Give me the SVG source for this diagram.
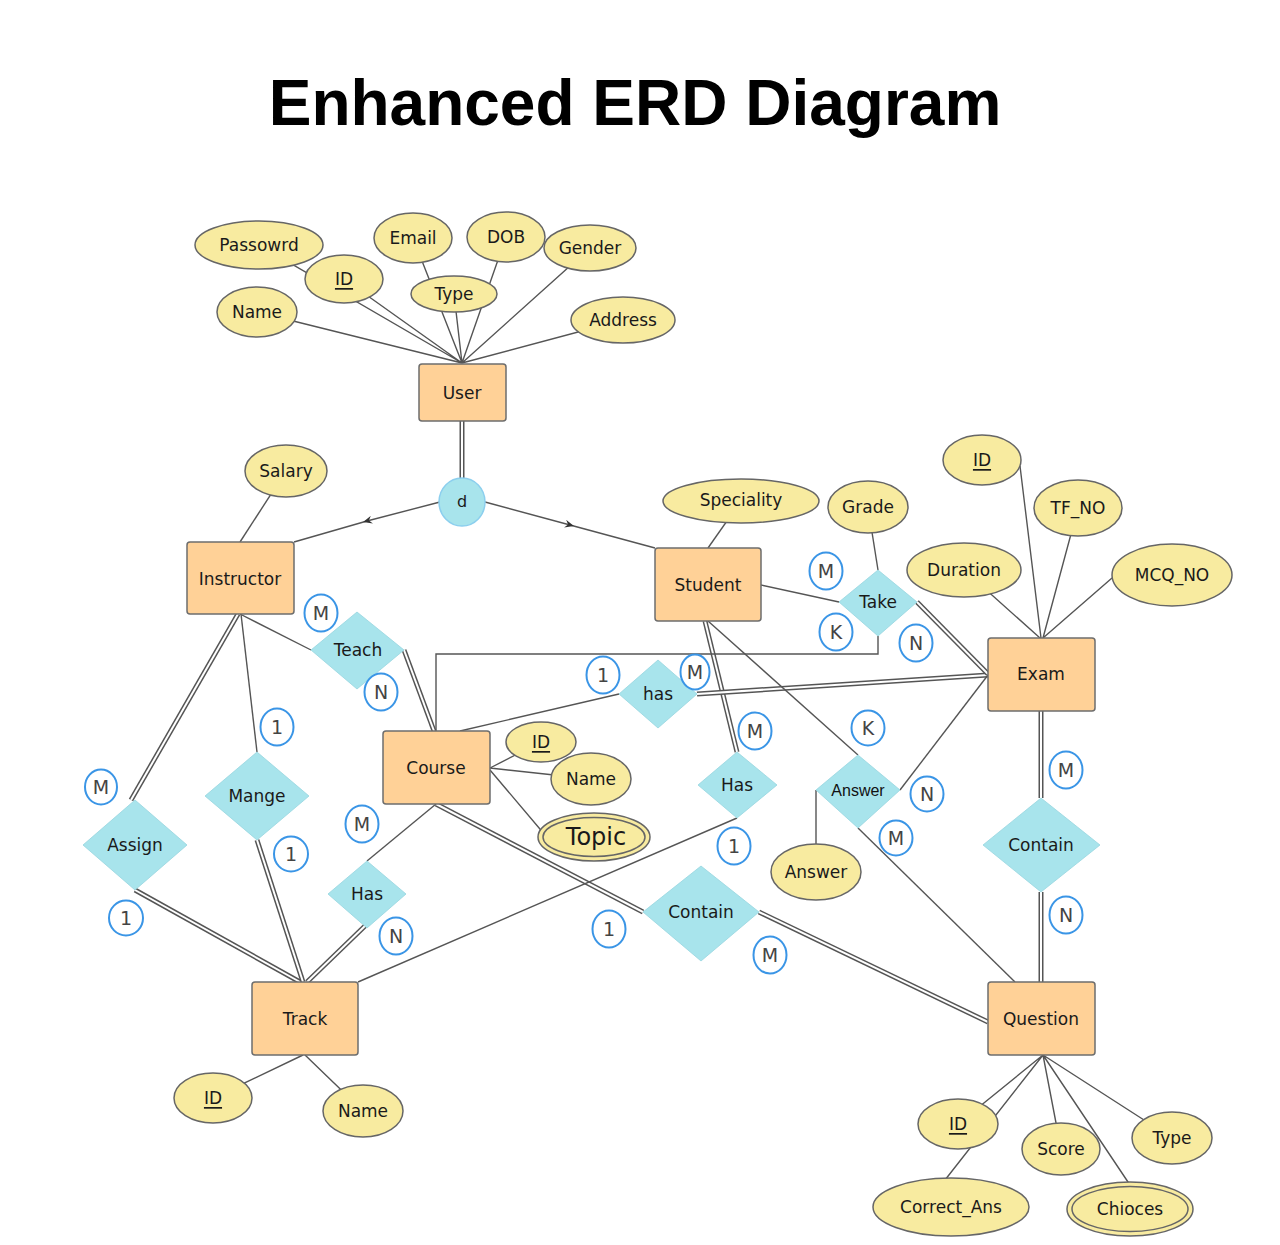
<svg xmlns="http://www.w3.org/2000/svg" width="1280" height="1245" viewBox="0 0 1280 1245">
<style>
.ln{fill:none;stroke:#555;stroke-width:1.4}
.dbo{fill:none;stroke:#555;stroke-width:5}
.dbi{fill:none;stroke:#fff;stroke-width:2}
.ent{fill:#FFD197;stroke:#6d6d6d;stroke-width:1.5}
.att{fill:#F8EBA0;stroke:#666;stroke-width:1.5}
.rel{fill:#A8E4EC;stroke:#97d6e0;stroke-width:0.8}
.card{fill:#fff;stroke:#3a95e6;stroke-width:2}
.t{font-family:"DejaVu Sans",Verdana,sans-serif;font-size:17px;fill:#1a1a1a;text-anchor:middle;dominant-baseline:central}
.ct{font-family:"DejaVu Sans",Verdana,sans-serif;font-size:19px;fill:#444;text-anchor:middle;dominant-baseline:central}
.u{text-decoration:underline}
</style>
<defs>
<marker id="arr" viewBox="0 0 10 8" refX="5" refY="4" markerWidth="10" markerHeight="8" orient="auto" markerUnits="userSpaceOnUse">
<path d="M0,0 L9,4 L0,8 L3,4 z" fill="#333"/>
</marker>
</defs>
<rect width="1280" height="1245" fill="#fff"/>
<text x="635" y="125" font-family="'Liberation Sans',Arial,sans-serif" font-size="64" font-weight="bold" text-anchor="middle" fill="#000">Enhanced ERD Diagram</text>

<g id="connectors">
<g>
<path class="dbo" d="M462,421 L462,480"/><path class="dbi" d="M462,421 L462,480"/>
<path class="dbo" d="M404,650 L434,731"/><path class="dbi" d="M404,650 L434,731"/>
<path class="dbo" d="M238,614 L131,800"/><path class="dbi" d="M238,614 L131,800"/>
<path class="dbo" d="M135,890 L300,982"/><path class="dbi" d="M135,890 L300,982"/>
<path class="dbo" d="M257,840 L303,982"/><path class="dbi" d="M257,840 L303,982"/>
<path class="dbo" d="M367,924 L307,982"/><path class="dbi" d="M367,924 L307,982"/>
<path class="dbo" d="M705,621 L737,752"/><path class="dbi" d="M705,621 L737,752"/>
<path class="dbo" d="M697,694 L988,675"/><path class="dbi" d="M697,694 L988,675"/>
<path class="dbo" d="M917,602 L988,674"/><path class="dbi" d="M917,602 L988,674"/>
<path class="dbo" d="M436,804 L643,912"/><path class="dbi" d="M436,804 L643,912"/>
<path class="dbo" d="M759,912 L988,1022"/><path class="dbi" d="M759,912 L988,1022"/>
<path class="dbo" d="M1041,711 L1041,798"/><path class="dbi" d="M1041,711 L1041,798"/>
<path class="dbo" d="M1041,892 L1041,982"/><path class="dbi" d="M1041,892 L1041,982"/>
</g>
<g>
<path class="ln" d="M259,245 L462,363 M344,279 L462,363 M257,312 L462,363 M413,238 L462,363 M506,237 L462,363 M590,248 L462,363 M454,294 L462,363 M623,320 L462,363"/>
<path class="ln" d="M440,502 L367,521 L294,542" marker-mid="url(#arr)"/>
<path class="ln" d="M485,502 L570,525 L655,548" marker-mid="url(#arr)"/>
<path class="ln" d="M286,471 L240,542"/>
<path class="ln" d="M741,501 L708,548"/>
<path class="ln" d="M868,507 L878,570"/>
<path class="ln" d="M1020,466 L1041,638 M1078,508 L1043,638 M964,570 L1040,638 M1112,578 L1043,638"/>
<path class="ln" d="M490,768 L541,742 M490,768 L591,779 M490,770 L545,835"/>
<path class="ln" d="M303,1055 L213,1098 M305,1055 L363,1111"/>
<path class="ln" d="M1043,1055 L958,1124 M1043,1055 L945,1180 M1043,1055 L1061,1149 M1043,1055 L1130,1185 M1043,1055 L1172,1138"/>
<path class="ln" d="M240,614 L311,650"/>
<path class="ln" d="M241,614 L257,752"/>
<path class="ln" d="M436,804 L367,861"/>
<path class="ln" d="M358,982 L737,818"/>
<path class="ln" d="M460,731 L619,694"/>
<path class="ln" d="M761,585 L839,602"/>
<path class="ln" d="M878,636 L878,654 L436,654 L436,731"/>
<path class="ln" d="M708,621 L858,755"/>
<path class="ln" d="M900,790 L988,675"/>
<path class="ln" d="M858,828 L1015,982"/>
<path class="ln" d="M816,790 L816,844"/>
</g>
</g>

<g id="user"><rect class="ent" x="419" y="364" width="87" height="57" rx="3"/><text class="t" x="462" y="393">User</text></g>
<g id="instructor"><rect class="ent" x="187" y="542" width="107" height="72" rx="3"/><text class="t" x="240" y="579">Instructor</text></g>
<g id="student"><rect class="ent" x="655" y="548" width="106" height="73" rx="3"/><text class="t" x="708" y="585">Student</text></g>
<g id="exam"><rect class="ent" x="988" y="638" width="107" height="73" rx="3"/><text class="t" x="1041" y="674">Exam</text></g>
<g id="course"><rect class="ent" x="383" y="731" width="107" height="73" rx="3"/><text class="t" x="436" y="768">Course</text></g>
<g id="track"><rect class="ent" x="252" y="982" width="106" height="73" rx="3"/><text class="t" x="305" y="1019">Track</text></g>
<g id="question"><rect class="ent" x="988" y="982" width="107" height="73" rx="3"/><text class="t" x="1041" y="1019">Question</text></g>

<g id="d"><ellipse cx="462" cy="502" rx="23" ry="24" fill="#A8E4EC" stroke="#8ccfee" stroke-width="1.5"/><text class="t" x="462" y="501" style="font-size:16px">d</text></g>

<g id="user-passowrd"><ellipse class="att" cx="259" cy="245" rx="64" ry="24"/><text class="t" x="259" y="245">Passowrd</text></g>
<g id="user-id"><ellipse class="att" cx="344" cy="279" rx="39" ry="24"/><text class="t u" x="344" y="279">ID</text></g>
<g id="user-name"><ellipse class="att" cx="257" cy="312" rx="40" ry="25"/><text class="t" x="257" y="312">Name</text></g>
<g id="user-email"><ellipse class="att" cx="413" cy="238" rx="39" ry="25"/><text class="t" x="413" y="238">Email</text></g>
<g id="user-dob"><ellipse class="att" cx="506" cy="237" rx="39" ry="25"/><text class="t" x="506" y="237">DOB</text></g>
<g id="user-gender"><ellipse class="att" cx="590" cy="248" rx="46" ry="23"/><text class="t" x="590" y="248">Gender</text></g>
<g id="user-type"><ellipse class="att" cx="454" cy="294" rx="43" ry="18"/><text class="t" x="454" y="294">Type</text></g>
<g id="user-address"><ellipse class="att" cx="623" cy="320" rx="52" ry="23"/><text class="t" x="623" y="320">Address</text></g>

<g id="instructor-salary"><ellipse class="att" cx="286" cy="471" rx="41" ry="26"/><text class="t" x="286" y="471">Salary</text></g>
<g id="student-speciality"><ellipse class="att" cx="741" cy="501" rx="78" ry="22"/><text class="t" x="741" y="500">Speciality</text></g>
<g id="take-grade"><ellipse class="att" cx="868" cy="507" rx="40" ry="26"/><text class="t" x="868" y="507">Grade</text></g>

<g id="exam-id"><ellipse class="att" cx="982" cy="460" rx="39" ry="25"/><text class="t u" x="982" y="460">ID</text></g>
<g id="exam-tfno"><ellipse class="att" cx="1078" cy="508" rx="44" ry="28"/><text class="t" x="1078" y="508">TF_NO</text></g>
<g id="exam-duration"><ellipse class="att" cx="964" cy="570" rx="57" ry="27"/><text class="t" x="964" y="570">Duration</text></g>
<g id="exam-mcqno"><ellipse class="att" cx="1172" cy="575" rx="60" ry="31"/><text class="t" x="1172" y="575">MCQ_NO</text></g>

<g id="course-id"><ellipse class="att" cx="541" cy="742" rx="35" ry="20"/><text class="t u" x="541" y="742">ID</text></g>
<g id="course-name"><ellipse class="att" cx="591" cy="779" rx="40" ry="26"/><text class="t" x="591" y="779">Name</text></g>
<g id="course-topic"><ellipse class="att" cx="594" cy="837" rx="56" ry="24"/><ellipse class="att" cx="594" cy="837" rx="51" ry="19.5"/><text class="t" x="596" y="837" style="font-size:24px">Topic</text></g>

<g id="track-id"><ellipse class="att" cx="213" cy="1098" rx="39" ry="25"/><text class="t u" x="213" y="1098">ID</text></g>
<g id="track-name"><ellipse class="att" cx="363" cy="1111" rx="40" ry="26"/><text class="t" x="363" y="1111">Name</text></g>

<g id="question-id"><ellipse class="att" cx="958" cy="1124" rx="40" ry="25"/><text class="t u" x="958" y="1124">ID</text></g>
<g id="question-score"><ellipse class="att" cx="1061" cy="1149" rx="39" ry="26"/><text class="t" x="1061" y="1149">Score</text></g>
<g id="question-type"><ellipse class="att" cx="1172" cy="1138" rx="40" ry="26"/><text class="t" x="1172" y="1138">Type</text></g>
<g id="question-correct"><ellipse class="att" cx="951" cy="1207" rx="78" ry="29"/><text class="t" x="951" y="1207">Correct_Ans</text></g>
<g id="question-chioces"><ellipse class="att" cx="1130" cy="1209" rx="63" ry="27"/><ellipse class="att" cx="1130" cy="1209" rx="58" ry="22.5"/><text class="t" x="1130" y="1209">Chioces</text></g>

<g id="answer-attr"><ellipse class="att" cx="816" cy="872" rx="45" ry="28"/><text class="t" x="816" y="872">Answer</text></g>

<g id="rel-teach"><polygon class="rel" points="357,612 404,650 357,689 311,650"/><text class="t" x="358" y="650">Teach</text></g>
<g id="rel-take"><polygon class="rel" points="878,570 917,602 878,636 839,602"/><text class="t" x="878" y="602">Take</text></g>
<g id="rel-has-exam"><polygon class="rel" points="658,660 697,694 658,728 619,694"/><text class="t" x="658" y="694">has</text></g>
<g id="rel-assign"><polygon class="rel" points="135,800 187,845 135,890 83,845"/><text class="t" x="135" y="845">Assign</text></g>
<g id="rel-mange"><polygon class="rel" points="257,752 309,796 257,840 205,796"/><text class="t" x="257" y="796">Mange</text></g>
<g id="rel-has-track"><polygon class="rel" points="367,861 406,894 367,928 328,894"/><text class="t" x="367" y="894">Has</text></g>
<g id="rel-has-student"><polygon class="rel" points="737,752 777,785 737,818 698,785"/><text class="t" x="737" y="785">Has</text></g>
<g id="rel-answer"><polygon class="rel" points="858,755 900,790 858,828 816,790"/><text x="858" y="790" font-family="'Liberation Sans',Arial,sans-serif" font-size="16" fill="#111" text-anchor="middle" dominant-baseline="central">Answer</text></g>
<g id="rel-contain-course"><polygon class="rel" points="701,866 759,912 701,961 643,912"/><text class="t" x="701" y="912">Contain</text></g>
<g id="rel-contain-exam"><polygon class="rel" points="1041,798 1100,845 1041,892 983,845"/><text class="t" x="1041" y="845">Contain</text></g>

<g id="cardinalities">
<g><ellipse class="card" cx="321" cy="613" rx="16.5" ry="18.5"/><text class="ct" x="321" y="613">M</text></g>
<g><ellipse class="card" cx="381" cy="692" rx="16.5" ry="18.5"/><text class="ct" x="381" y="692">N</text></g>
<g><ellipse class="card" cx="826" cy="571" rx="16.5" ry="18.5"/><text class="ct" x="826" y="571">M</text></g>
<g><ellipse class="card" cx="836" cy="632" rx="16.5" ry="18.5"/><text class="ct" x="836" y="632">K</text></g>
<g><ellipse class="card" cx="916" cy="643" rx="16.5" ry="18.5"/><text class="ct" x="916" y="643">N</text></g>
<g><ellipse class="card" cx="603" cy="675" rx="16.5" ry="18.5"/><text class="ct" x="603" y="675">1</text></g>
<g><ellipse class="card" cx="695" cy="672" rx="14.5" ry="17.5"/><text class="ct" x="695" y="672">M</text></g>
<g><ellipse class="card" cx="277" cy="727" rx="16.5" ry="18.5"/><text class="ct" x="277" y="727">1</text></g>
<g><ellipse class="card" cx="291" cy="854" rx="17" ry="17.5"/><text class="ct" x="291" y="854">1</text></g>
<g><ellipse class="card" cx="101" cy="787" rx="16" ry="17.5"/><text class="ct" x="101" y="787">M</text></g>
<g><ellipse class="card" cx="126" cy="918" rx="17" ry="17.5"/><text class="ct" x="126" y="918">1</text></g>
<g><ellipse class="card" cx="362" cy="824" rx="16.5" ry="18.5"/><text class="ct" x="362" y="824">M</text></g>
<g><ellipse class="card" cx="396" cy="936" rx="16.5" ry="18.5"/><text class="ct" x="396" y="936">N</text></g>
<g><ellipse class="card" cx="755" cy="731" rx="16.5" ry="18.5"/><text class="ct" x="755" y="731">M</text></g>
<g><ellipse class="card" cx="734" cy="846" rx="16.5" ry="18.5"/><text class="ct" x="734" y="846">1</text></g>
<g><ellipse class="card" cx="868" cy="728" rx="16.5" ry="17.5"/><text class="ct" x="868" y="728">K</text></g>
<g><ellipse class="card" cx="927" cy="794" rx="16.5" ry="17.5"/><text class="ct" x="927" y="794">N</text></g>
<g><ellipse class="card" cx="896" cy="838" rx="16.5" ry="17.5"/><text class="ct" x="896" y="838">M</text></g>
<g><ellipse class="card" cx="609" cy="929" rx="16.5" ry="18.5"/><text class="ct" x="609" y="929">1</text></g>
<g><ellipse class="card" cx="770" cy="955" rx="16.5" ry="18.5"/><text class="ct" x="770" y="955">M</text></g>
<g><ellipse class="card" cx="1066" cy="770" rx="16.5" ry="18.5"/><text class="ct" x="1066" y="770">M</text></g>
<g><ellipse class="card" cx="1066" cy="915" rx="16.5" ry="18.5"/><text class="ct" x="1066" y="915">N</text></g>
</g>
</svg>
